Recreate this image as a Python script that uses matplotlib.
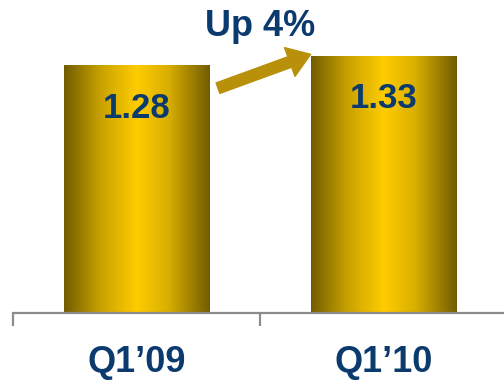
import matplotlib
matplotlib.use("Agg")
import matplotlib.pyplot as plt
import numpy as np
from matplotlib.colors import LinearSegmentedColormap

# data
quarters = ["Q1\u201909", "Q1\u201910"]
values = [1.28, 1.33]
change_label = "Up 4%"

NAVY = "#0b3a6e"
GOLD = "#b8900a"

plt.rcParams["font.family"] = ["Liberation Sans", "DejaVu Sans"]

fig = plt.figure(figsize=(5.04, 3.85), dpi=100)
# axes: bottom line at y=313px, left at x=13px
ax = fig.add_axes([13 / 504, 1 - 313 / 385, 494 / 504, 313 / 385])
ax.set_xlim(-0.5, 1.5)
ax.set_ylim(0, 313 / 193)

x = np.arange(len(quarters))
bars = ax.bar(x, values, width=0.59, color="none", edgecolor="none")

cmap = LinearSegmentedColormap.from_list(
    "goldbar",
    [(0.0, "#725c00"), (0.25, "#c9a200"), (0.5, "#ffcc00"),
     (0.72, "#d8ae00"), (1.0, "#725c00")])
grad = np.linspace(0, 1, 256).reshape(1, -1)
for b in bars:
    x0, w, h = b.get_x(), b.get_width(), b.get_height()
    ax.imshow(grad, cmap=cmap, aspect="auto", extent=(x0, x0 + w, 0, h),
              zorder=2, interpolation="bicubic")

for xi, v in zip(x, values):
    ax.text(xi, v - 0.22, f"{v:.2f}", ha="center", va="center",
            fontsize=25, fontweight="bold", color=NAVY, zorder=3)

# arrow and change label between the bars
ax.annotate("", xy=(0.705, 1.34), xytext=(0.33, 1.165),
            arrowprops=dict(arrowstyle="simple,head_width=2.2,head_length=1.6,tail_width=0.8",
                            color=GOLD, shrinkA=0, shrinkB=0), zorder=3)
ax.text(0.5, 1.485, change_label, ha="center", va="center",
        fontsize=26, fontweight="bold", color=NAVY)

for s in ["top", "right", "left"]:
    ax.spines[s].set_visible(False)
ax.spines["bottom"].set_color("#8c8c8c")
ax.spines["bottom"].set_linewidth(1.6)
ax.set_yticks([])
ax.set_xticks([-0.5, 0.5, 1.5])
ax.set_xticklabels([])
ax.set_xticks(x, minor=True)
ax.set_xticklabels(quarters, minor=True, fontsize=26, fontweight="bold", color=NAVY)
ax.tick_params(axis="x", which="major", length=9.5, width=1.6, color="#8c8c8c", direction="out")
ax.tick_params(axis="x", which="minor", length=0, pad=23)

fig.savefig("out.png", dpi=100)
